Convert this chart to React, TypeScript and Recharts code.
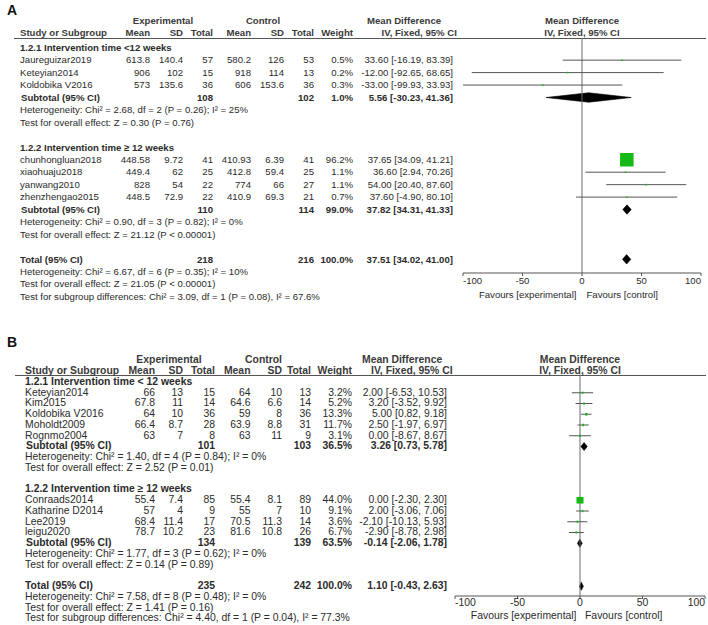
import React from "react";
import {
  ComposedChart,
  XAxis,
  YAxis,
  Scatter,
  ReferenceLine,
  ReferenceArea,
} from "recharts";

// ---------- Panel A data ----------
const a1Names = ["Jaureguizar2019", "Keteyian2014", "Koldobika V2016"];
const a1ExpMean = [613.8, 906, 573];
const a1ExpSd = [140.4, 102, 135.6];
const a1ExpN = [57, 15, 36];
const a1CtlMean = [580.2, 918, 606];
const a1CtlSd = [126, 114, 153.6];
const a1CtlN = [53, 13, 36];
const a1Weight = [0.5, 0.2, 0.3];
const a1Md = [33.6, -12.0, -33.0];
const a1Lo = [-16.19, -92.65, -99.93];
const a1Hi = [83.39, 68.65, 33.93];

const a2Names = ["chunhongluan2018", "xiaohuaju2018", "yanwang2010", "zhenzhengao2015"];
const a2ExpMean = [448.58, 449.4, 828, 448.5];
const a2ExpSd = [9.72, 62, 54, 72.9];
const a2ExpN = [41, 25, 22, 22];
const a2CtlMean = [410.93, 412.8, 774, 410.9];
const a2CtlSd = [6.39, 59.4, 66, 69.3];
const a2CtlN = [41, 25, 27, 21];
const a2Weight = [96.2, 1.1, 1.1, 0.7];
const a2Md = [37.65, 36.6, 54.0, 37.6];
const a2Lo = [34.09, 2.94, 20.4, -4.9];
const a2Hi = [41.21, 70.26, 87.6, 80.1];

// subtotal 1, subtotal 2, total
const aPooledExpN = [108, 110, 218];
const aPooledCtlN = [102, 114, 216];
const aPooledWeight = [1.0, 99.0, 100.0];
const aPooledMd = [5.56, 37.82, 37.51];
const aPooledLo = [-30.23, 34.31, 34.02];
const aPooledHi = [41.36, 41.33, 41.0];
const aHet = [
  "Heterogeneity: Chi² = 2.68, df = 2 (P = 0.26); I² = 25%",
  "Heterogeneity: Chi² = 0.90, df = 3 (P = 0.82); I² = 0%",
  "Heterogeneity: Chi² = 6.67, df = 6 (P = 0.35); I² = 10%",
];
const aZ = [
  "Test for overall effect: Z = 0.30 (P = 0.76)",
  "Test for overall effect: Z = 21.12 (P < 0.00001)",
  "Test for overall effect: Z = 21.05 (P < 0.00001)",
];
const aSubgroup = "Test for subgroup differences: Chi² = 3.09, df = 1 (P = 0.08), I² = 67.6%";
const aGroupTitles = ["1.2.1 Intervention time <12 weeks", "1.2.2 Intervention time ≥ 12 weeks"];

// ---------- Panel B data ----------
const b1Names = ["Keteyian2014", "Kim2015", "Koldobika V2016", "Moholdt2009", "Rognmo2004"];
const b1ExpMean = [66, 67.8, 64, 66.4, 63];
const b1ExpSd = [13, 11, 10, 8.7, 7];
const b1ExpN = [15, 14, 36, 28, 8];
const b1CtlMean = [64, 64.6, 59, 63.9, 63];
const b1CtlSd = [10, 6.6, 8, 8.8, 11];
const b1CtlN = [13, 14, 36, 31, 9];
const b1Weight = [3.2, 5.2, 13.3, 11.7, 3.1];
const b1Md = [2.0, 3.2, 5.0, 2.5, 0.0];
const b1Lo = [-6.53, -3.52, 0.82, -1.97, -8.67];
const b1Hi = [10.53, 9.92, 9.18, 6.97, 8.67];

const b2Names = ["Conraads2014", "Katharine D2014", "Lee2019", "leigu2020"];
const b2ExpMean = [55.4, 57, 68.4, 78.7];
const b2ExpSd = [7.4, 4, 11.4, 10.2];
const b2ExpN = [85, 9, 17, 23];
const b2CtlMean = [55.4, 55, 70.5, 81.6];
const b2CtlSd = [8.1, 7, 11.3, 10.8];
const b2CtlN = [89, 10, 14, 26];
const b2Weight = [44.0, 9.1, 3.6, 6.7];
const b2Md = [0.0, 2.0, -2.1, -2.9];
const b2Lo = [-2.3, -3.06, -10.13, -8.78];
const b2Hi = [2.3, 7.06, 5.93, 2.98];

const bPooledExpN = [101, 134, 235];
const bPooledCtlN = [103, 139, 242];
const bPooledWeight = [36.5, 63.5, 100.0];
const bPooledMd = [3.26, -0.14, 1.1];
const bPooledLo = [0.73, -2.06, -0.43];
const bPooledHi = [5.78, 1.78, 2.63];
const bHet = [
  "Heterogeneity: Chi² = 1.40, df = 4 (P = 0.84); I² = 0%",
  "Heterogeneity: Chi² = 1.77, df = 3 (P = 0.62); I² = 0%",
  "Heterogeneity: Chi² = 7.58, df = 8 (P = 0.48); I² = 0%",
];
const bZ = [
  "Test for overall effect: Z = 2.52 (P = 0.01)",
  "Test for overall effect: Z = 0.14 (P = 0.89)",
  "Test for overall effect: Z = 1.41 (P = 0.16)",
];
const bSubgroup = "Test for subgroup differences: Chi² = 4.40, df = 1 (P = 0.04), I² = 77.3%";
const bGroupTitles = ["1.2.1 Intervention time < 12 weeks", "1.2.2 Intervention time ≥ 12 weeks"];

const xTicks = [-100, -50, 0, 50, 100];

const W = 708;
const TEXT = "#2b2b2b";
const GREEN = "#16b916";

type Study = {
  name: string; em: number; esd: number; en: number; cm: number; csd: number; cn: number;
  w: number; md: number; lo: number; hi: number;
};

function zipStudies(n: string[], em: number[], esd: number[], en: number[], cm: number[], csd: number[], cn: number[], w: number[], md: number[], lo: number[], hi: number[]): Study[] {
  return n.map((name, i) => ({
    name, em: em[i], esd: esd[i], en: en[i], cm: cm[i], csd: csd[i], cn: cn[i],
    w: w[i], md: md[i], lo: lo[i], hi: hi[i],
  }));
}

const ci = (md: number, lo: number, hi: number) => `${md.toFixed(2)} [${lo.toFixed(2)}, ${hi.toFixed(2)}]`;

type Panel = {
  label: string;
  groups: Study[][];
  titles: string[];
  pExpN: number[]; pCtlN: number[]; pW: number[]; pMd: number[]; pLo: number[]; pHi: number[];
  het: string[]; z: string[]; subgroup: string;
  // layout
  top: number; rowY0: number; rowH: number; fs: number;
  headY1: number; headY2: number; lineY: number; lineX0: number;
  col: { study: number; em: number; esd: number; en: number; cm: number; csd: number; cn: number; w: number; ci: number; expC: number; ctlC: number; mdL: number; ivL: number };
  plotL: number; plotR: number; axisY: number; chartTop: number; chartH: number;
  favY: number; favL: number; favR: number; sq: number; yScale: number; tickMargin: number;
};

const panelA: Panel = {
  label: "A",
  groups: [
    zipStudies(a1Names, a1ExpMean, a1ExpSd, a1ExpN, a1CtlMean, a1CtlSd, a1CtlN, a1Weight, a1Md, a1Lo, a1Hi),
    zipStudies(a2Names, a2ExpMean, a2ExpSd, a2ExpN, a2CtlMean, a2CtlSd, a2CtlN, a2Weight, a2Md, a2Lo, a2Hi),
  ],
  titles: aGroupTitles,
  pExpN: aPooledExpN, pCtlN: aPooledCtlN, pW: aPooledWeight, pMd: aPooledMd, pLo: aPooledLo, pHi: aPooledHi,
  het: aHet, z: aZ, subgroup: aSubgroup,
  top: 10, rowY0: 47.7, rowH: 12.45, fs: 9.6,
  headY1: 20.5, headY2: 33, lineY: 38, lineX0: 14,
  col: { study: 20, em: 150, esd: 183, en: 213, cm: 251, csd: 284, cn: 314, w: 353, ci: 453, expC: 163, ctlC: 263, mdL: 367, ivL: 381.5 },
  plotL: 463, plotR: 701, axisY: 273, chartTop: 0, chartH: 310,
  favY: 295, favL: 576.5, favR: 586.5, sq: 0.14, yScale: 1, tickMargin: 1,
};

const panelB: Panel = {
  label: "B",
  groups: [
    zipStudies(b1Names, b1ExpMean, b1ExpSd, b1ExpN, b1CtlMean, b1CtlSd, b1CtlN, b1Weight, b1Md, b1Lo, b1Hi),
    zipStudies(b2Names, b2ExpMean, b2ExpSd, b2ExpN, b2CtlMean, b2CtlSd, b2CtlN, b2Weight, b2Md, b2Lo, b2Hi),
  ],
  titles: bGroupTitles,
  pExpN: bPooledExpN, pCtlN: bPooledCtlN, pW: bPooledWeight, pMd: bPooledMd, pLo: bPooledLo, pHi: bPooledHi,
  het: bHet, z: bZ, subgroup: bSubgroup,
  top: 342, rowY0: 382, rowH: 10.75, fs: 10.4,
  headY1: 360, headY2: 371, lineY: 374.5, lineX0: 15,
  col: { study: 25, em: 155, esd: 183, en: 215, cm: 250.5, csd: 282, cn: 311, w: 352, ci: 447, expC: 169, ctlC: 263.5, mdL: 362, ivL: 371 },
  plotL: 455, plotR: 705, axisY: 596, chartTop: 340, chartH: 285,
  favY: 616.5, favL: 576.5, favR: 585, sq: 0.16, yScale: 0.8, tickMargin: 0,
};

type TxtProps = { x: number; y: number; t: string | number; a?: "l" | "r" | "c"; b?: boolean; fs: number; color?: string };

function Txt({ x, y, t, a = "l", b, fs, color }: TxtProps) {
  const style: React.CSSProperties = {
    position: "absolute",
    top: y - fs * 0.6,
    fontSize: fs,
    lineHeight: `${fs * 1.2}px`,
    whiteSpace: "nowrap",
    fontWeight: b ? "bold" : "normal",
    color: color || TEXT,
  };
  if (a === "l") style.left = x;
  else if (a === "r") style.right = W - x;
  else {
    style.left = x;
    style.transform = "translateX(-50%)";
  }
  return <div style={style}>{t}</div>;
}

function AxisTick(props: any) {
  const { x, y, payload, fs } = props;
  const v = payload.value;
  const anchor = v === -100 ? "start" : v === 100 ? "end" : "middle";
  return (
    <text x={x} y={y} dy="0.71em" textAnchor={anchor} fontSize={fs} fill={TEXT} fontFamily="'Liberation Sans', Arial, sans-serif">
      {v}
    </text>
  );
}

function ForestPanel({ p }: { p: Panel }) {
  const texts: React.ReactNode[] = [];
  const marks: { k: number; md: number; lo: number; hi: number; w: number }[] = [];
  const diamonds: { k: number; lo: number; hi: number }[] = [];
  const yk = (k: number) => p.rowY0 + k * p.rowH;
  const c = p.col;
  const fs = p.fs;
  let key = 0;
  const add = (el: Omit<TxtProps, "fs">) => texts.push(<Txt key={key++} fs={fs} {...el} />);

  let k = 0;
  p.groups.forEach((g, gi) => {
    add({ x: c.study, y: yk(k), t: p.titles[gi], b: true });
    k++;
    g.forEach((s) => {
      const y = yk(k);
      add({ x: c.study, y, t: s.name });
      add({ x: c.em, y, t: s.em, a: "r" });
      add({ x: c.esd, y, t: s.esd, a: "r" });
      add({ x: c.en, y, t: s.en, a: "r" });
      add({ x: c.cm, y, t: s.cm, a: "r" });
      add({ x: c.csd, y, t: s.csd, a: "r" });
      add({ x: c.cn, y, t: s.cn, a: "r" });
      add({ x: c.w, y, t: `${s.w.toFixed(1)}%`, a: "r" });
      add({ x: c.ci, y, t: ci(s.md, s.lo, s.hi), a: "r" });
      marks.push({ k, md: s.md, lo: s.lo, hi: s.hi, w: s.w });
      k++;
    });
    const y = yk(k);
    add({ x: c.study + 1, y, t: "Subtotal (95% CI)", b: true });
    add({ x: c.en, y, t: p.pExpN[gi], a: "r", b: true });
    add({ x: c.cn, y, t: p.pCtlN[gi], a: "r", b: true });
    add({ x: c.w, y, t: `${p.pW[gi].toFixed(1)}%`, a: "r", b: true });
    add({ x: c.ci, y, t: ci(p.pMd[gi], p.pLo[gi], p.pHi[gi]), a: "r", b: true });
    diamonds.push({ k, lo: p.pLo[gi], hi: p.pHi[gi] });
    k++;
    add({ x: c.study, y: yk(k), t: p.het[gi] });
    k++;
    add({ x: c.study, y: yk(k), t: p.z[gi] });
    k += 2;
  });
  const yt = yk(k);
  add({ x: c.study, y: yt, t: "Total (95% CI)", b: true });
  add({ x: c.en, y: yt, t: p.pExpN[2], a: "r", b: true });
  add({ x: c.cn, y: yt, t: p.pCtlN[2], a: "r", b: true });
  add({ x: c.w, y: yt, t: `${p.pW[2].toFixed(1)}%`, a: "r", b: true });
  add({ x: c.ci, y: yt, t: ci(p.pMd[2], p.pLo[2], p.pHi[2]), a: "r", b: true });
  diamonds.push({ k, lo: p.pLo[2], hi: p.pHi[2] });
  add({ x: c.study, y: yk(k + 1), t: p.het[2] });
  add({ x: c.study, y: yk(k + 2), t: p.z[2] });
  add({ x: c.study, y: yk(k + 3), t: p.subgroup });

  // headers
  const HC = "#3a3a3a";
  add({ x: c.expC, y: p.headY1, t: "Experimental", a: "c", b: true, color: HC });
  add({ x: c.ctlC, y: p.headY1, t: "Control", a: "c", b: true, color: HC });
  add({ x: c.mdL, y: p.headY1, t: "Mean Difference", b: true, color: HC });
  add({ x: (p.plotL + p.plotR) / 2, y: p.headY1, t: "Mean Difference", a: "c", b: true, color: HC });
  add({ x: c.study, y: p.headY2, t: "Study or Subgroup", b: true, color: HC });
  add({ x: c.em, y: p.headY2, t: "Mean", a: "r", b: true, color: HC });
  add({ x: c.esd, y: p.headY2, t: "SD", a: "r", b: true, color: HC });
  add({ x: c.en, y: p.headY2, t: "Total", a: "r", b: true, color: HC });
  add({ x: c.cm, y: p.headY2, t: "Mean", a: "r", b: true, color: HC });
  add({ x: c.csd, y: p.headY2, t: "SD", a: "r", b: true, color: HC });
  add({ x: c.cn, y: p.headY2, t: "Total", a: "r", b: true, color: HC });
  add({ x: c.w, y: p.headY2, t: "Weight", a: "r", b: true, color: HC });
  add({ x: c.ivL, y: p.headY2, t: "IV, Fixed, 95% CI", b: true, color: HC });
  add({ x: (p.plotL + p.plotR) / 2, y: p.headY2, t: "IV, Fixed, 95% CI", a: "c", b: true, color: HC });
  add({ x: p.favL, y: p.favY, t: "Favours [experimental]", a: "r" });
  add({ x: p.favR, y: p.favY, t: "Favours [control]" });

  // y domain: plot area from header line to axis line
  const yMin = (p.lineY - p.rowY0) / p.rowH;
  const yMax = (p.axisY - p.rowY0) / p.rowH;
  const axisH = 20;
  const mTop = p.lineY - p.chartTop;
  const mBottom = p.chartH - axisH - (p.axisY - p.chartTop);

  const shapeSquare = (props: any) => {
    const { cx, cy, payload } = props;
    const s = Math.max(1.6, payload.w * p.sq);
    const h = Math.max(1.6, s * p.yScale + (p.yScale < 1 ? 1 : 0));
    return <rect x={cx - s / 2} y={cy - h / 2} width={s} height={h} fill={GREEN} />;
  };

  const diamondShape = (props: any) => {
    const x = Math.min(props.x, props.x + props.width);
    const w = Math.abs(props.width);
    const y = Math.min(props.y, props.y + props.height);
    const h = Math.abs(props.height);
    const pts = `${x},${y + h / 2} ${x + w / 2},${y} ${x + w},${y + h / 2} ${x + w / 2},${y + h}`;
    return <polygon points={pts} fill="#000" stroke="#000" strokeWidth={0.6} />;
  };

  return (
    <>
      <div style={{ position: "absolute", left: p.lineX0, top: p.lineY, width: 706 - p.lineX0, height: 1, background: "#555" }} />
      <div style={{ position: "absolute", left: 0, top: p.chartTop }}>
        <ComposedChart
          width={W}
          height={p.chartH}
          margin={{ top: mTop, right: W - p.plotR, bottom: mBottom, left: p.plotL }}
        >
          <XAxis
            type="number"
            dataKey="md"
            domain={[-100, 100]}
            ticks={xTicks}
            height={axisH}
            interval={0}
            allowDataOverflow
            stroke="#555"
            tickSize={3}
            tickMargin={p.tickMargin}
            tick={<AxisTick fs={fs} />}
          />
          <YAxis type="number" dataKey="k" domain={[yMin, yMax]} reversed hide allowDataOverflow />
          <ReferenceLine x={0} stroke="#6a6a6a" strokeWidth={1} />
          {marks.map((m, i) => (
            <ReferenceLine
              key={`ci-${i}`}
              segment={[{ x: m.lo, y: m.k }, { x: m.hi, y: m.k }]}
              stroke="#555"
              strokeWidth={1}
              ifOverflow="visible"
            />
          ))}
          {diamonds.map((d, i) => (
            <ReferenceArea
              key={`dm-${i}`}
              x1={d.lo}
              x2={d.hi}
              y1={d.k - 0.38}
              y2={d.k + 0.38}
              ifOverflow="visible"
              shape={diamondShape}
            />
          ))}
          <Scatter data={marks} dataKey="k" shape={shapeSquare} isAnimationActive={false} />
        </ComposedChart>
      </div>
      <div style={{ position: "absolute", left: 7, top: p.top - 8, fontSize: 14, fontWeight: "bold", color: "#111" }}>{p.label}</div>
      {texts}
    </>
  );
}

export default function App() {
  return (
    <div
      style={{
        position: "relative",
        width: W,
        height: 625,
        background: "#fff",
        overflow: "hidden",
        fontFamily: "'Liberation Sans', Arial, sans-serif",
      }}
    >
      <style>{"body{margin:0}"}</style>
      <ForestPanel p={panelA} />
      <ForestPanel p={panelB} />
    </div>
  );
}
